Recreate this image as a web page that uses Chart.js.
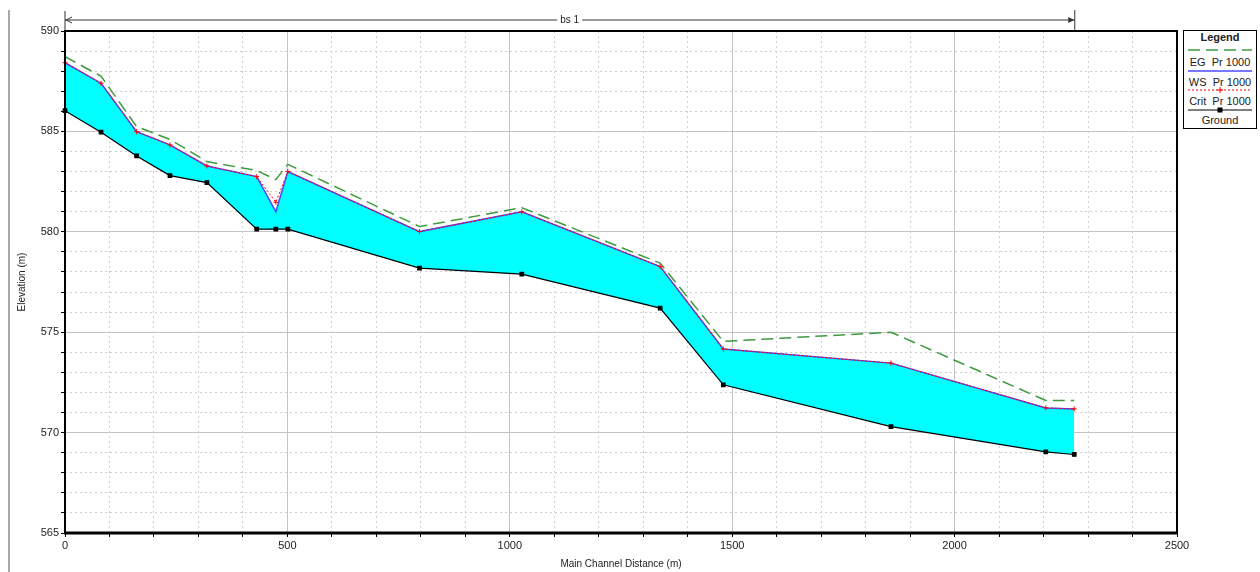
<!DOCTYPE html>
<html>
<head>
<meta charset="utf-8">
<script src="https://cdn.jsdelivr.net/npm/chart.js@4.4.0/dist/chart.umd.min.js"></script>
<style>
  body { margin: 0; background: #fff; }
  #wrap { position: relative; width: 1260px; height: 572px; }
  #sep { position: absolute; left: 8px; top: 10px; width: 2px; height: 562px; background: #a8a8a8; }
  #legend { position: absolute; left: 1183px; top: 30px; width: 72px; height: 97px; border: 1px solid #000;
            background: #fff; font: 11px "Liberation Sans", Arial, sans-serif; color: #222; }
  #legend .t { position: absolute; left: 0; top: 0; width: 100%; height: 12px; line-height: 12px; text-align: center;
               font-weight: bold; }
  #legend .lbl { position: absolute; left: 0; width: 100%; text-align: center; line-height: 11px; white-space: pre; }
  #legend svg { position: absolute; left: 4px; }
</style>
</head>
<body>
<div id="wrap">
  <canvas id="profile"></canvas>
  <div id="sep"></div>
  <div id="legend">
    <div class="t">Legend</div>
    <svg style="top:15px" width="64" height="8"><line x1="0" y1="4" x2="64" y2="4" stroke="#3f9a3f" stroke-width="1.5" stroke-dasharray="12,6"/></svg>
    <div class="lbl" style="top:26px">EG  Pr 1000</div>
    <svg style="top:36px" width="64" height="8"><line x1="0" y1="4" x2="64" y2="4" stroke="#4a4aff" stroke-width="1.5"/></svg>
    <div class="lbl" style="top:46px">WS  Pr 1000</div>
    <svg style="top:55px" width="64" height="8"><line x1="0" y1="4" x2="64" y2="4" stroke="#ff0000" stroke-width="1" stroke-dasharray="2,2"/><line x1="29" y1="4" x2="35" y2="4" stroke="#ff0000"/><line x1="32" y1="1" x2="32" y2="7" stroke="#ff0000"/></svg>
    <div class="lbl" style="top:65px">Crit  Pr 1000</div>
    <svg style="top:75px" width="64" height="8"><line x1="0" y1="4" x2="64" y2="4" stroke="#000" stroke-width="1.2"/><rect x="29.5" y="1.5" width="5" height="5" fill="#000"/></svg>
    <div class="lbl" style="top:84px">Ground</div>
  </div>
</div>
<script>
// stations (m) and elevations (m)
const stations  = [0, 81, 161, 236, 319, 431, 474, 501, 797, 1027, 1338, 1480, 1857, 2205, 2269];
const groundElev = [586.03, 584.96, 583.78, 582.8, 582.45, 580.13, 580.13, 580.13, 578.19, 577.89, 576.2, 572.38, 570.3, 569.04, 568.91];
const wsElev   = [588.42, 587.4, 584.99, 584.33, 583.28, 582.75, 581.0, 583.0, 580.01, 581.0, 578.27, 574.16, 573.46, 571.23, 571.18];
const critElev = [588.42, 587.4, 584.99, 584.33, 583.28, 582.75, 581.47, 583.0, 580.01, 581.0, 578.27, 574.16, 573.46, 571.23, 571.18];
const egElev   = [588.72, 587.75, 585.24, 584.6, 583.5, 583.05, 582.6, 583.36, 580.26, 581.2, 578.44, 574.54, 575.0, 571.6, 571.6];

const reachName = 'bs 1';
const xTicksMajor = 500;
const yTicksMajor = 5;

const pts = arr => stations.map((s, i) => ({ x: s, y: arr[i] }));
const FONT = '"Liberation Sans", Arial, sans-serif';

// --- reach bar on top + heavy frame round the plot ---
const reachPlugin = {
  id: 'reach',
  afterDraw(chart) {
    const { ctx, chartArea: a, scales } = chart;
    const x0 = scales.x.getPixelForValue(stations[0]);
    const x1 = scales.x.getPixelForValue(stations[stations.length - 1]);
    const y = 20;
    ctx.save();
    ctx.strokeStyle = '#333';
    ctx.fillStyle = '#333';
    ctx.lineWidth = 1;
    ctx.beginPath();
    ctx.moveTo(x0, y); ctx.lineTo(x1, y);
    ctx.moveTo(x0, 11); ctx.lineTo(x0, a.top);
    ctx.moveTo(x1 + 0.5, 10); ctx.lineTo(x1 + 0.5, a.top);
    ctx.stroke();
    // arrow heads
    ctx.beginPath();
    ctx.moveTo(x0 + 1, y); ctx.lineTo(x0 + 7, y - 3); ctx.moveTo(x0 + 1, y); ctx.lineTo(x0 + 7, y + 3);
    ctx.stroke();
    ctx.beginPath();
    ctx.moveTo(x1, y); ctx.lineTo(x1 - 6, y - 3); ctx.lineTo(x1 - 6, y + 3); ctx.closePath();
    ctx.fill();
    // label
    ctx.font = '10px ' + FONT;
    const mid = (x0 + x1) / 2;
    const w = ctx.measureText(reachName).width;
    ctx.fillStyle = '#fff';
    ctx.fillRect(mid - w / 2 - 3, y - 6, w + 6, 12);
    ctx.fillStyle = '#222';
    ctx.textAlign = 'center';
    ctx.textBaseline = 'middle';
    ctx.fillText(reachName, mid, y);
    // frame
    ctx.strokeStyle = '#000';
    ctx.lineWidth = 2;
    ctx.strokeRect(a.left, a.top, a.right - a.left, a.bottom - a.top);
    ctx.lineWidth = 3;
    ctx.beginPath();
    ctx.moveTo(a.left - 1, a.bottom); ctx.lineTo(a.right + 1, a.bottom);
    ctx.stroke();
    ctx.restore();
  }
};

const majorX = c => c.tick && c.tick.value % xTicksMajor === 0;
const majorY = c => c.tick && Math.round(c.tick.value) % yTicksMajor === 0;

new Chart(document.getElementById('profile'), {
  type: 'line',
  data: {
    datasets: [
      {
        label: 'EG  Pr 1000', data: pts(egElev), order: 3,
        borderColor: '#3f9a3f', borderWidth: 1.5, borderDash: [12, 6],
        pointRadius: 0, fill: false
      },
      {
        label: 'WS  Pr 1000', data: pts(wsElev), order: 2,
        borderColor: '#4a4aff', borderWidth: 1.5,
        pointRadius: 0,
        fill: { target: 3, above: '#00ffff', below: '#00ffff' }
      },
      {
        label: 'Crit  Pr 1000', data: pts(critElev), order: 0,
        borderColor: '#ff0000', borderWidth: 1, borderDash: [2, 2],
        pointStyle: 'cross', pointRadius: 2.5, pointBorderColor: '#ff0000', pointBorderWidth: 1,
        fill: false
      },
      {
        label: 'Ground', data: pts(groundElev), order: 1,
        borderColor: '#000', borderWidth: 1.2,
        pointStyle: 'rect', pointRadius: 2.5, pointBackgroundColor: '#000', pointBorderColor: '#000',
        fill: false
      }
    ]
  },
  options: {
    responsive: true,
    maintainAspectRatio: false,
    animation: false,
    clip: 4,
    layout: { padding: { left: 10, top: 31, right: 83, bottom: 0 } },
    plugins: { legend: { display: false }, tooltip: { enabled: false } },
    scales: {
      x: {
        type: 'linear', min: 0, max: 2500,
        afterFit: s => { s.height = 39; },
        ticks: {
          stepSize: 100, autoSkip: false, maxRotation: 0, padding: 2,
          color: '#222', font: { family: FONT, size: 11 },
          callback: v => v % xTicksMajor === 0 ? v : ''
        },
        grid: {
          color: c => majorX(c) ? '#c4c4c4' : '#cfcfcf',
          lineWidth: 1, tickColor: '#000', tickLength: 4, tickWidth: 1
        },
        border: { display: false, dash: c => majorX(c) ? [] : [2, 3] },
        title: { display: true, text: 'Main Channel Distance (m)', color: '#222',
                 font: { family: FONT, size: 10 }, padding: { top: 0, bottom: 2 } }
      },
      y: {
        type: 'linear', min: 565, max: 590,
        afterFit: s => { s.width = 55; },
        ticks: {
          stepSize: 1, autoSkip: false, padding: 2,
          color: '#222', font: { family: FONT, size: 11 },
          callback: v => Math.round(v) % yTicksMajor === 0 ? v : ''
        },
        grid: {
          color: c => majorY(c) ? '#c4c4c4' : '#cfcfcf',
          lineWidth: 1, tickColor: '#000', tickLength: 4, tickWidth: 1
        },
        border: { display: false, dash: c => majorY(c) ? [] : [2, 3] },
        title: { display: true, text: 'Elevation (m)', color: '#222',
                 font: { family: FONT, size: 10 }, padding: { top: 6, bottom: 0 } }
      }
    }
  },
  plugins: [reachPlugin]
});
</script>
</body>
</html>
